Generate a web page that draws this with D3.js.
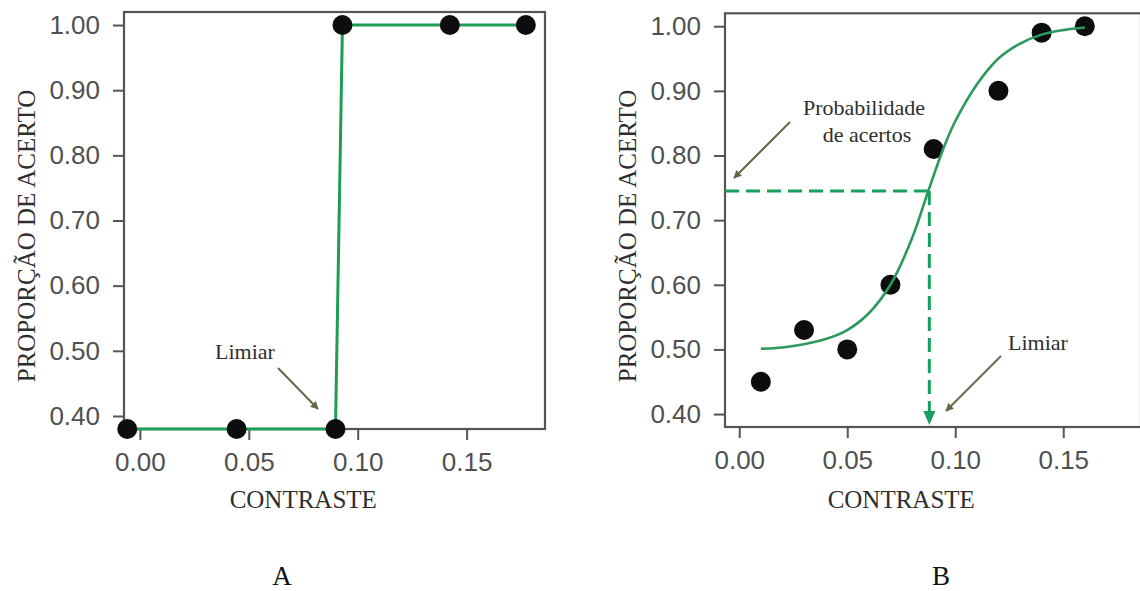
<!DOCTYPE html>
<html>
<head>
<meta charset="utf-8">
<script src="https://cdn.jsdelivr.net/npm/d3@7/dist/d3.min.js"></script>
<style>
  html, body { margin: 0; padding: 0; background: #fff; }
  svg { display: block; }
  .tick text { font-family: "Liberation Sans", Arial, sans-serif; font-size: 26px; fill: #505050; }
  .tick line { stroke: #555; stroke-width: 2; }
  .serif { font-family: "Liberation Serif", "Times New Roman", serif; fill: #2e2e2e; }
</style>
</head>
<body>
<svg id="chart" width="1140" height="591"></svg>
<script>
// Panel A: step-like threshold (ideal observer)
const contrastA = [-0.0058, 0.0444, 0.0898, 0.0930, 0.1423, 0.1772];
const hitsA     = [0.38, 0.38, 0.38, 1.00, 1.00, 1.00];

// Panel B: observed proportions
const contrastB = [0.010, 0.030, 0.050, 0.070, 0.090, 0.120, 0.140, 0.160];
const hitsB     = [0.45, 0.53, 0.50, 0.60, 0.81, 0.90, 0.99, 1.00];

// Panel B: fitted psychometric curve
const curveX = [0.010, 0.020, 0.030, 0.040, 0.050, 0.060, 0.070, 0.080, 0.0875,
                0.095, 0.100, 0.110, 0.120, 0.130, 0.140, 0.150, 0.160];
const curveY = [0.501, 0.503, 0.508, 0.516, 0.530, 0.556, 0.600, 0.672, 0.745,
                0.815, 0.853, 0.910, 0.950, 0.973, 0.987, 0.994, 0.998];

// Threshold
const thresholdX = 0.088;
const thresholdY = 0.745;

// Axis ticks
const xTicks = [0.00, 0.05, 0.10, 0.15];
const yTicks = [0.40, 0.50, 0.60, 0.70, 0.80, 0.90, 1.00];

const yTitle = "PROPORÇÃO DE ACERTO";
const xTitle = "CONTRASTE";

const svg = d3.select("#chart");
const fmt = d3.format(".2f");

const GREEN = "#1f9d55";
const DASH_GREEN = "#17a05e";
const ARROW = "#5e6b48";

const defs = svg.append("defs");
defs.append("marker")
  .attr("id", "head")
  .attr("viewBox", "0 0 10 10")
  .attr("refX", 9).attr("refY", 5)
  .attr("markerWidth", 4).attr("markerHeight", 4)
  .attr("orient", "auto")
  .append("path").attr("d", "M0,0 L10,5 L0,10 Z").attr("fill", ARROW);

function panel(opts) {
  const x = d3.scaleLinear().domain([opts.x0, 0.186]).range([opts.left, opts.right]);
  const y = d3.scaleLinear().domain([0.38, 1.02]).range([opts.bottom, opts.top]);
  const g = svg.append("g");

  // axes
  const ax = g.append("g")
    .attr("transform", `translate(0,${opts.bottom})`)
    .call(d3.axisBottom(x).tickValues(xTicks).tickSize(11).tickPadding(13).tickFormat(fmt));
  ax.select(".domain").remove();

  const ay = g.append("g")
    .attr("transform", `translate(${opts.left},0)`)
    .call(d3.axisLeft(y).tickValues(yTicks).tickSize(11).tickPadding(13).tickFormat(fmt));
  ay.select(".domain").remove();

  // frame
  g.append("rect")
    .attr("x", opts.left).attr("y", opts.top)
    .attr("width", opts.right - opts.left).attr("height", opts.bottom - opts.top)
    .attr("fill", "none").attr("stroke", "#555").attr("stroke-width", 2.2);

  // titles
  g.append("text").attr("class", "serif")
    .attr("x", x(0.075)).attr("y", 508)
    .attr("text-anchor", "middle").attr("font-size", 25)
    .text(xTitle);
  g.append("text").attr("class", "serif")
    .attr("transform", `translate(${opts.left - 89},236) rotate(-90)`)
    .attr("text-anchor", "middle").attr("font-size", 25)
    .text(yTitle);

  g.append("text").attr("class", "serif")
    .attr("x", opts.letterX).attr("y", 585)
    .attr("text-anchor", "middle").attr("font-size", 27)
    .style("fill", "#111")
    .text(opts.letter);

  return { g, x, y };
}

// ---------- Panel A ----------
const A = panel({ left: 124, right: 545, top: 12, bottom: 429, x0: -0.0073, letter: "A", letterX: 282 });

A.g.append("path")
  .datum(d3.zip(contrastA, hitsA))
  .attr("fill", "none").attr("stroke", GREEN).attr("stroke-width", 3)
  .attr("d", d3.line().x(d => A.x(d[0])).y(d => A.y(d[1])));

A.g.selectAll("circle.pt")
  .data(d3.zip(contrastA, hitsA))
  .join("circle").attr("class", "pt")
  .attr("cx", d => A.x(d[0])).attr("cy", d => A.y(d[1]))
  .attr("r", 10).attr("fill", "#0d0d0d");

A.g.append("text").attr("class", "serif")
  .attr("x", 245).attr("y", 359).attr("text-anchor", "middle").attr("font-size", 22)
  .text("Limiar");
A.g.append("line")
  .attr("x1", 278).attr("y1", 368).attr("x2", 318).attr("y2", 409)
  .attr("stroke", ARROW).attr("stroke-width", 2).attr("marker-end", "url(#head)");

// ---------- Panel B ----------
const B = panel({ left: 725, right: 1141, top: 13.3, bottom: 427, x0: -0.0066, letter: "B", letterX: 941 });

B.g.selectAll("circle.pt")
  .data(d3.zip(contrastB, hitsB))
  .join("circle").attr("class", "pt")
  .attr("cx", d => B.x(d[0])).attr("cy", d => B.y(d[1]))
  .attr("r", 10).attr("fill", "#0d0d0d");

B.g.append("path")
  .datum(d3.zip(curveX, curveY))
  .attr("fill", "none").attr("stroke", "#2a9a5c").attr("stroke-width", 2.6)
  .attr("d", d3.line().curve(d3.curveCatmullRom.alpha(0.5)).x(d => B.x(d[0])).y(d => B.y(d[1])));

// threshold guides
const tx = B.x(thresholdX), ty = B.y(thresholdY), yb = B.y(0.38);
B.g.append("line")
  .attr("x1", 725).attr("y1", ty).attr("x2", tx).attr("y2", ty)
  .attr("stroke", DASH_GREEN).attr("stroke-width", 3).attr("stroke-dasharray", "14,7");
B.g.append("line")
  .attr("x1", tx).attr("y1", ty).attr("x2", tx).attr("y2", yb - 12)
  .attr("stroke", DASH_GREEN).attr("stroke-width", 3).attr("stroke-dasharray", "14,7");
B.g.append("path")
  .attr("d", `M${tx - 6},${yb - 16} L${tx + 6},${yb - 16} L${tx},${yb - 2} Z`)
  .attr("fill", DASH_GREEN);

B.g.append("text").attr("class", "serif")
  .attr("x", 864).attr("y", 115).attr("text-anchor", "middle").attr("font-size", 22)
  .text("Probabilidade");
B.g.append("text").attr("class", "serif")
  .attr("x", 867).attr("y", 142).attr("text-anchor", "middle").attr("font-size", 22)
  .text("de acertos");
B.g.append("line")
  .attr("x1", 790).attr("y1", 122).attr("x2", 734).attr("y2", 178)
  .attr("stroke", ARROW).attr("stroke-width", 2).attr("marker-end", "url(#head)");

B.g.append("text").attr("class", "serif")
  .attr("x", 1038).attr("y", 350).attr("text-anchor", "middle").attr("font-size", 22)
  .text("Limiar");
B.g.append("line")
  .attr("x1", 1001).attr("y1", 356).attr("x2", 946).attr("y2", 411)
  .attr("stroke", ARROW).attr("stroke-width", 2).attr("marker-end", "url(#head)");
</script>
</body>
</html>
